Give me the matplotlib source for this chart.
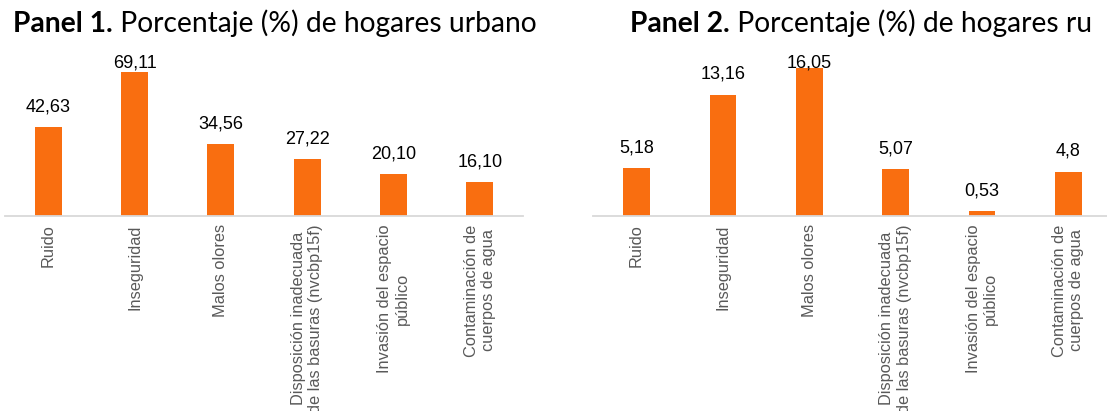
import matplotlib
matplotlib.use("Agg")
from matplotlib import pyplot as plt
import numpy as np

# categories (same for both panels)
categorias = ["Ruido", "Inseguridad", "Malos olores",
              "Disposición inadecuada\nde las basuras (nvcbp15f)",
              "Invasión del espacio\npúblico",
              "Contaminación de\ncuerpos de agua"]

urbano = [42.63, 69.11, 34.56, 27.22, 20.10, 16.10]
urbano_txt = ["42,63", "69,11", "34,56", "27,22", "20,10", "16,10"]

rural = [5.18, 13.16, 16.05, 5.07, 0.53, 4.8]
rural_txt = ["5,18", "13,16", "16,05", "5,07", "0,53", "4,8"]

titulos = [("Panel 1.", " Porcentaje (%) de hogares urbano"),
           ("Panel 2.", " Porcentaje (%) de hogares ru")]

naranja = "#F96E10"
W, H = 1107, 411
fig = plt.figure(figsize=(W/100, H/100), dpi=100)

def panel(left_px, valores, textos, ymax):
    ax = fig.add_axes([left_px/W, (H-216)/H, 518/W, (216-54)/H])
    x = np.arange(len(valores))
    ax.bar(x, valores, width=0.31, color=naranja, zorder=2)
    ax.set_xlim(-0.5, len(valores)-0.5)
    ax.set_ylim(0, ymax)
    ppu = (216-54)/ymax  # pixels per unit
    for i, (v, t) in enumerate(zip(valores, textos)):
        # label above the bar, pushed inside when it would leave the plot area
        if v + (15.7+16)/ppu > ymax:
            ax.text(i, ymax, t, ha="center", va="top", fontsize=13,
                    family="Liberation Sans", color="black", zorder=3)
        else:
            ax.text(i, v + 15.7/ppu, t, ha="center", va="baseline", fontsize=13,
                    family="Liberation Sans", color="black", zorder=3)
    ax.set_xticks(x)
    ax.set_xticklabels(categorias, rotation=90, fontsize=11.8,
                       family="Liberation Sans", color="#595959",
                       ha="center", va="top", multialignment="center")
    ax.tick_params(axis="x", length=0, pad=6)
    ax.set_yticks([])
    for s in ["top", "left", "right"]:
        ax.spines[s].set_visible(False)
    ax.spines["bottom"].set_color("#D9D9D9")
    ax.spines["bottom"].set_linewidth(1.3)
    return ax

panel(5, urbano, urbano_txt, 77.5)
panel(593.4, rural, rural_txt, 17.55)

# titles: bold "Panel n." followed by regular text
for (neg, resto), x0 in zip(titulos, [13, 630]):
    t1 = fig.text(x0/W, 1-32/H, neg, fontsize=20.3, family="Lato",
                  weight="bold", va="baseline")
    fig.canvas.draw()
    bb = t1.get_window_extent()
    fig.text(bb.x1/W, 1-32/H, resto, fontsize=20.3, family="Lato",
             va="baseline")

fig.savefig("out.png", dpi=100)
